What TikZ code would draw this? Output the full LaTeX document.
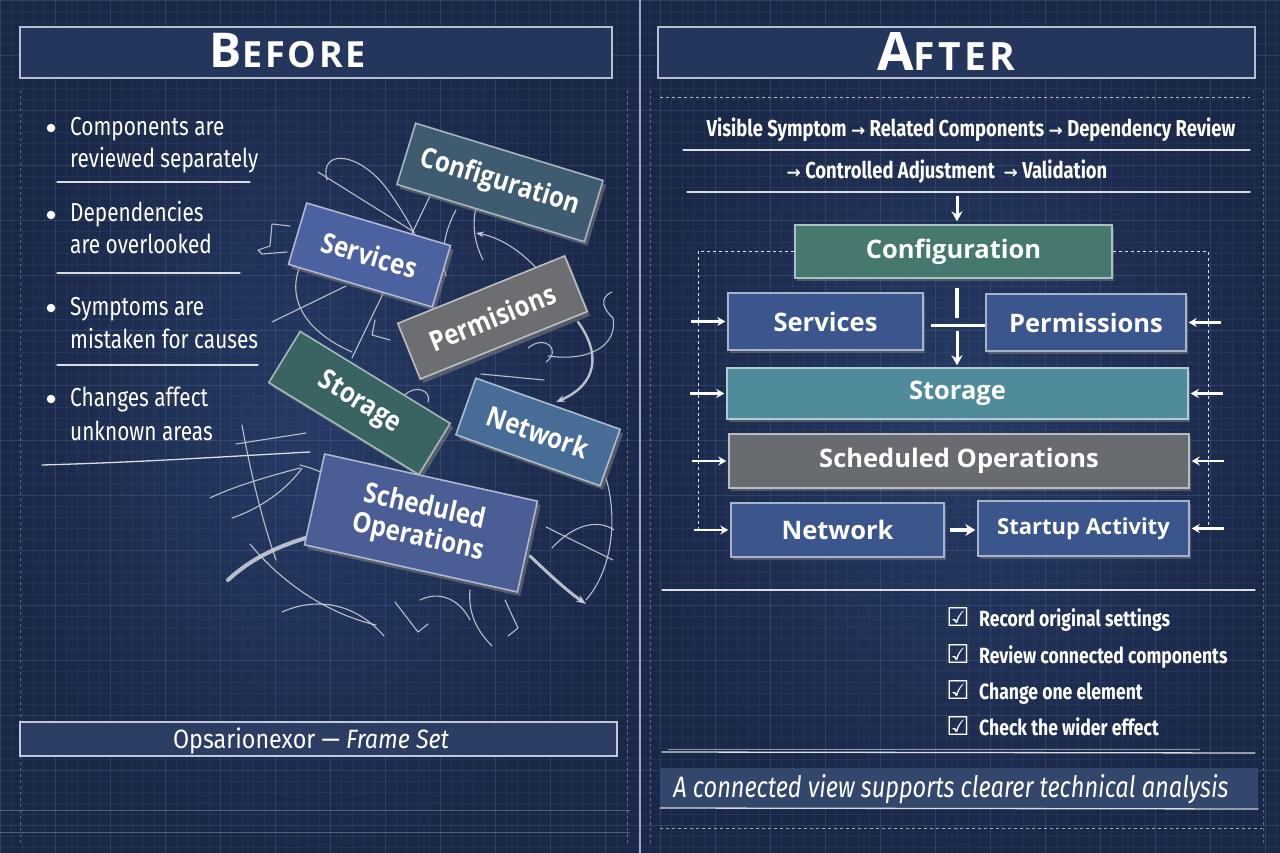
\documentclass[tikz,border=0pt]{standalone}
\usepackage{fontspec}
\setmainfont{Fira Sans}
\newfontfamily\chalk[FakeStretch=0.8]{Fira Sans}
\newfontfamily\chalkw[FakeStretch=0.88]{Fira Sans}
\newfontfamily\lbl{Open Sans}
\newfontfamily\lblc[FakeStretch=0.86]{Open Sans}
\newfontfamily\hdr[LetterSpace=8]{Open Sans}
\newfontfamily\sym{DejaVu Sans}
\usetikzlibrary{shadows,arrows.meta,calc}
\definecolor{bgA}{HTML}{1A2848}
\definecolor{bgB}{HTML}{263A64}
\definecolor{gridc}{HTML}{6F86B4}
\definecolor{hdrfill}{HTML}{24365C}
\definecolor{hdrline}{HTML}{B4C0D2}
\definecolor{scr}{HTML}{C9CFD8}
\definecolor{divc}{HTML}{8FA8D6}
\definecolor{cfgL}{HTML}{3F5B6F}
\definecolor{svcL}{HTML}{4B61A0}
\definecolor{permL}{HTML}{6C6E72}
\definecolor{stoL}{HTML}{3A6364}
\definecolor{netL}{HTML}{476D97}
\definecolor{schL}{HTML}{4A5E95}
\definecolor{cfgR}{HTML}{46786F}
\definecolor{blueR}{HTML}{3A568C}
\definecolor{stoR}{HTML}{4F8B9A}
\definecolor{schR}{HTML}{686B70}
\definecolor{footfill}{HTML}{2B3D62}
\definecolor{capfill}{HTML}{33466B}
\begin{document}
\begin{tikzpicture}[x=1pt,y=-1pt,
  scrib/.style={draw=scr, line width=1.1pt, line cap=round, line join=round, opacity=0.9},
  sepline/.style={draw=white!82!bgB, line width=1.3pt, line cap=round},
  hdrbox/.style={fill=hdrfill, draw=hdrline, line width=1.8pt},
  lbox/.style={draw=white!55!#1, fill=#1, line width=1.6pt, text=white,
    font=\lblc\bfseries\fontsize{28}{31}\selectfont, align=center, inner sep=0pt,
    drop shadow={opacity=0.55, shadow xshift=3pt, shadow yshift=-4pt}},
  rbox/.style={draw=white!55!#1, fill=#1, line width=1.4pt, text=white,
    font=\lbl\bfseries\fontsize{25.5}{28}\selectfont, inner sep=0pt,
    drop shadow={opacity=0.5, shadow xshift=2pt, shadow yshift=-3pt}},
  chalktxt/.style={text=white, font=\chalk\fontsize{26}{30}\selectfont, inner sep=0pt},
  flowtxt/.style={text=white, font=\chalk\bfseries\fontsize{23}{28}\selectfont, inner sep=0pt},
  checktxt/.style={text=white, font=\chalk\bfseries\fontsize{22}{26}\selectfont, inner sep=0pt},
  sidearrow/.style={draw=white, line width=2.2pt, -{Stealth[length=8pt,width=9pt]}},
  barline/.style={draw=white, line width=4pt},
  frameline/.style={draw=white!85!bgB, line width=0.9pt, dashed},
  bdot/.style={circle, fill=white, minimum size=8.5pt, inner sep=0pt}
]
\useasboundingbox (0,0) rectangle (1280,853);
% background
\fill[bgA] (0,0) rectangle (1280,853);
\shade[inner color=bgB, outer color=bgA] (0,0) rectangle (640,853);
\shade[inner color=bgB, outer color=bgA] (640,0) rectangle (1280,853);
\foreach \i in {0,11,...,1280} \draw[gridc, opacity=0.10, line width=0.4pt] (\i,0) -- (\i,853);
\foreach \j in {0,11,...,853} \draw[gridc, opacity=0.10, line width=0.4pt] (0,\j) -- (1280,\j);
\foreach \i in {0,55,...,1280} \draw[gridc, opacity=0.16, line width=0.7pt] (\i,0) -- (\i,853);
\foreach \j in {0,55,...,853} \draw[gridc, opacity=0.16, line width=0.7pt] (0,\j) -- (1280,\j);
% panel frames
\draw[frameline, opacity=0.35] (20,90) -- (20,845);
\draw[frameline, opacity=0.35] (627,90) -- (627,845);
\draw[frameline, opacity=0.35] (650,90) -- (650,845);
\draw[frameline, opacity=0.35] (1263,90) -- (1263,845);
\draw[divc, line width=1.6pt] (640,0) -- (640,853);
\draw[white, opacity=0.25, line width=1pt] (0,810) -- (630,810);
\draw[white, opacity=0.25, line width=1pt] (0,832) -- (630,832);

% ===== LEFT: BEFORE =====
\node[hdrbox, minimum width=592pt, minimum height=51pt, inner sep=0pt] (hbL) at (316,52.5) {};
\node[text=white, inner sep=0pt, anchor=base] (hbLt) at (288,68) {\hdr\bfseries\fontsize{48}{50}\selectfont B\fontsize{36}{40}\selectfont EFORE};

% scribbles
\draw[scrib] (327,180) .. controls (318,148) and (362,150) .. (392,196) .. controls (405,215) and (415,232) .. (420,248);
\draw[scrib] (318,172) -- (414,232);
\draw[scrib] (302,262) .. controls (284,298) and (306,332) .. (352,352);
\draw[scrib] (272,322) -- (346,286);
\draw[scrib] (352,358) -- (430,196);
\draw[scrib] (456,210) .. controls (444,232) and (440,256) .. (446,276);
\draw[scrib] (478,200) .. controls (471,222) and (474,242) .. (483,260);
\draw[scrib,-{Stealth[length=8pt]}] (540,272) .. controls (522,252) and (502,238) .. (476,233);
\draw[scrib] (612,292) .. controls (598,298) and (604,310) .. (613,318) .. controls (618,345) and (590,362) .. (548,356);
\draw[scrib, line width=2.4pt, -{Stealth[length=9pt]}] (578,322) .. controls (602,355) and (596,385) .. (556,402);
\draw[scrib] (528,348) .. controls (545,334) and (562,350) .. (546,362);
\draw[scrib] (481,374) -- (544,380);
\draw[scrib] (404,396) .. controls (414,384) and (432,390) .. (428,402);
\draw[scrib] (242,425) .. controls (250,470) and (262,520) .. (276,560);
\draw[scrib] (236,444) -- (306,433);
\draw[scrib] (210,498) .. controls (230,488) and (262,478) .. (300,468);
\draw[scrib] (232,518) .. controls (262,508) and (288,488) .. (302,468);
\draw[scrib, line width=4pt] (228,580) .. controls (254,556) and (282,545) .. (312,536);
\draw[scrib] (250,544) .. controls (275,575) and (320,612) .. (376,625);
\draw[scrib] (282,612) .. controls (318,596) and (356,604) .. (384,636);
\draw[scrib] (395,602) -- (418,632) -- (428,624);
\draw[scrib] (505,600) -- (518,628) -- (508,636);
\draw[scrib] (470,590) .. controls (468,612) and (476,630) .. (492,646);
\draw[scrib] (546,527) -- (613,560);
\draw[scrib] (552,548) .. controls (576,522) and (600,520) .. (614,530);
\draw[scrib, line width=3pt, -{Stealth[length=10pt]}] (530,556) .. controls (550,575) and (566,590) .. (586,604);
\draw[scrib] (606,478) .. controls (618,520) and (612,570) .. (586,600);
\draw[scrib] (290,226) -- (272,224) -- (270,246) -- (258,250) -- (262,254) -- (287,252);
\draw[scrib] (300,465) .. controls (320,470) and (335,478) .. (345,490);
\draw[scrib] (375,320) -- (372,335) -- (390,340);
\draw[scrib] (420,600) .. controls (440,590) and (460,600) .. (470,620);
\draw[scrib] (560,470) .. controls (580,480) and (600,470) .. (612,455);

% left boxes
\node[lbox=cfgL, minimum width=196pt, minimum height=64pt, rotate=-17] (cfgLn) at (500,182.5) {Configuration};
\node[lbox=svcL, minimum width=150pt, minimum height=64pt, rotate=-16.5] (svcLn) at (369.5,255) {Services};
\node[lbox=permL, minimum width=180pt, minimum height=60pt, rotate=22] (permLn) at (492.5,317.5) {Permisions};
\node[lbox=stoL, minimum width=176pt, minimum height=60pt, rotate=-31.5] (stoLn) at (359.5,403) {Storage};
\node[lbox=netL, minimum width=153pt, minimum height=60pt, rotate=-19.5] (netLn) at (538,432) {Network};
\node[lbox=schL, minimum width=218pt, minimum height=93pt, rotate=-12.5] (schLn) at (421,523) {Scheduled\\Operations};

% bullets
\foreach \n/\y in {b1/128, b2/215, b3/308, b4/399}
  \node[bdot] (\n) at (51,\y) {};
\node[chalktxt, anchor=base west] (t1a) at (70,136) {Components are};
\node[chalktxt, anchor=base west] (t1b) at (70,168) {reviewed separately};
\node[chalktxt, anchor=base west] (t2a) at (70,222) {Dependencies};
\node[chalktxt, anchor=base west] (t2b) at (70,254) {are overlooked};
\node[chalktxt, anchor=base west] (t3a) at (70,315) {Symptoms are};
\node[chalktxt, anchor=base west] (t3b) at (70,348) {mistaken for causes};
\node[chalktxt, anchor=base west] (t4a) at (70,406) {Changes affect};
\node[chalktxt, anchor=base west] (t4b) at (70,440) {unknown areas};
\draw[sepline] (57,182) -- (250,182);
\draw[sepline] (57,273) -- (240,273);
\draw[sepline] (57,365) -- (258,365);
\draw[sepline] (42,465) .. controls (150,462) and (250,455) .. (310,452);

% footer left
\node[fill=footfill, draw=hdrline!85, line width=1.6pt, minimum width=597pt, minimum height=34pt, inner sep=0pt] (fL) at (318.5,739) {};
\node[text=white, inner sep=0pt, anchor=base, font=\chalkw\fontsize{26.5}{28}\selectfont] (fLt) at (311,748) {Opsarionexor — \textit{Frame Set}};

% ===== RIGHT: AFTER =====
\node[hdrbox, minimum width=597pt, minimum height=51pt, inner sep=0pt] (hbR) at (956.5,52.5) {};
\node[text=white, inner sep=0pt, anchor=base] (hbRt) at (946,71) {\hdr\bfseries\fontsize{53}{54}\selectfont A\fontsize{39}{42}\selectfont FTER};
\draw[frameline, opacity=0.8] (660,97) -- (1250,97);

\node[flowtxt, anchor=base] (fl1) at (971,137) {Visible Symptom {\sym\fontsize{17}{17}\selectfont →} Related Components {\sym\fontsize{17}{17}\selectfont →} Dependency Review};
\draw[sepline] (683,150) -- (1250,150);
\node[flowtxt, anchor=base] (fl2) at (947,179) {{\sym\fontsize{17}{17}\selectfont →} Controlled Adjustment\ \ {\sym\fontsize{17}{17}\selectfont →} Validation};
\draw[sepline] (687,192) -- (1250,192);

% right boxes
\node[rbox=cfgR, minimum width=317pt, minimum height=53pt] (cfgRn) at (953.5,251.5) {Configuration};
\node[rbox=blueR, minimum width=195pt, minimum height=57pt] (svcRn) at (825.5,321.5) {Services};
\node[rbox=blueR, minimum width=200pt, minimum height=57pt] (permRn) at (1086,322.5) {Permissions};
\node[rbox=stoR, minimum width=461pt, minimum height=51pt] (stoRn) at (957.5,393.5) {Storage};
\node[rbox=schR, minimum width=460pt, minimum height=54pt] (schRn) at (959,461) {Scheduled Operations};
\node[rbox=blueR, minimum width=213pt, minimum height=54pt] (netRn) at (837.5,530) {Network};
\node[rbox=blueR, minimum width=211pt, minimum height=55pt, font=\lbl\bfseries\fontsize{22}{25}\selectfont] (stuRn) at (1083.5,528.5) {Startup Activity};

% dashed frame
\coordinate (dfl) at (698,530);
\coordinate (dfr) at (1208,530);
\draw[frameline] (cfgRn.west) -| (dfl);
\draw[frameline] (cfgRn.east) -| (dfr);

% connectors
\coordinate (flowbot) at (957,196);
\draw[draw=white, line width=3pt, -{Stealth[length=10pt,width=11pt]}] (flowbot) -- ($(cfgRn.north)+(3.5,-3)$);
\draw[barline] ($(cfgRn.south)+(3.5,9)$) -- ($(cfgRn.south)+(3.5,39)$);
\draw[draw=white, line width=3pt] ($(svcRn.east)+(7,4)$) -- ($(permRn.west)+(0,3)$);
\draw[draw=white, line width=3pt, -{Stealth[length=10pt,width=11pt]}] ($(stoRn.north)+(-0.5,-36)$) -- ($(stoRn.north)+(-0.5,-2)$);
\foreach \n in {svcRn, stoRn, schRn, netRn}
  \draw[sidearrow] ($(\n.west)+(-36,0)$) -- ($(\n.west)+(-2,0)$);
\foreach \n in {permRn, stoRn, schRn, stuRn}
  \draw[sidearrow] ($(\n.east)+(34,0)$) -- ($(\n.east)+(2,0)$);
\draw[draw=white, line width=3.5pt, -{Stealth[length=10pt,width=12pt]}] ($(netRn.east)+(5,0)$) -- ($(stuRn.west)+(-2,1.5)$);

\draw[sepline] (662,590) -- (1255,590);

% checklist
\foreach \n/\y/\t in {c1/626/Record original settings, c2/663/Review connected components, c3/699/Change one element, c4/735/Check the wider effect}{
  \node[text=white, inner sep=0pt, anchor=base, font=\sym\bfseries\fontsize{26}{26}\selectfont] (\n s) at (958,\y) {☑};
  \node[checktxt, anchor=base west] (\n t) at (979,\y) {\t};
}

\draw[sepline] (662,752) -- (1255,753);
\draw[white, opacity=0.5, line width=0.8pt] (668,749) -- (1200,749);
\node[fill=capfill, minimum width=598pt, minimum height=40pt, inner sep=0pt] (capR) at (959,788) {};
\node[text=white, inner sep=0pt, anchor=base, font=\chalk\itshape\fontsize{29.5}{31}\selectfont] (capRt) at (951,797) {A connected view supports clearer technical analysis};
\draw[sepline] (660,808) -- (1258,809);
\draw[frameline, opacity=0.7] (660,828) -- (1262,828);
\end{tikzpicture}
\end{document}
